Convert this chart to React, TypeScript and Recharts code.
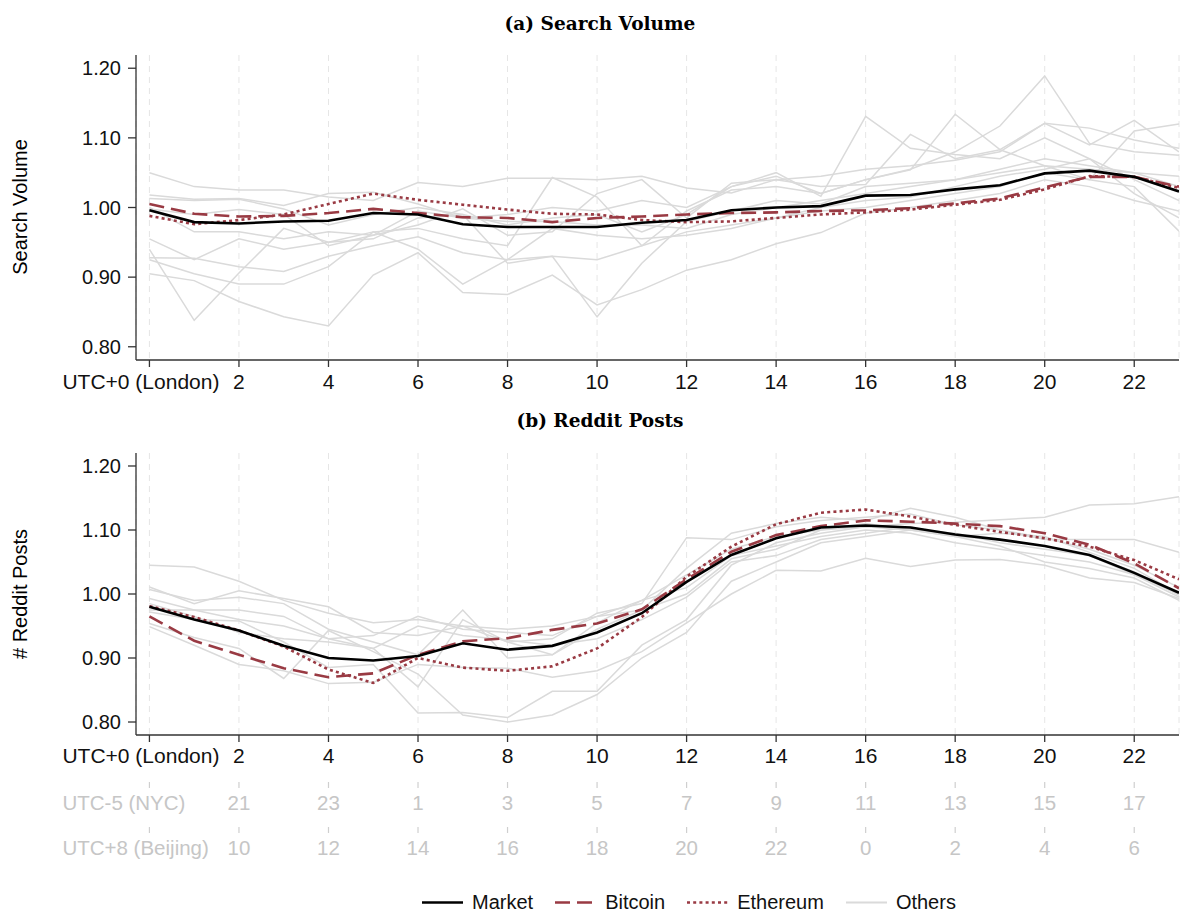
import React from "react";
import { CartesianGrid, Line, LineChart, XAxis, YAxis } from "recharts";

const hours = [0, 1, 2, 3, 4, 5, 6, 7, 8, 9, 10, 11, 12, 13, 14, 15, 16, 17, 18, 19, 20, 21, 22, 23];
const tickHours = [0, 2, 4, 6, 8, 10, 12, 14, 16, 18, 20, 22];
const londonLabels = ["UTC+0 (London)", "2", "4", "6", "8", "10", "12", "14", "16", "18", "20", "22"];
const nycLabels = ["UTC-5 (NYC)", "21", "23", "1", "3", "5", "7", "9", "11", "13", "15", "17"];
const beijingLabels = ["UTC+8 (Beijing)", "10", "12", "14", "16", "18", "20", "22", "0", "2", "4", "6"];
const yTicks = [0.8, 0.9, 1.0, 1.1, 1.2];

const searchMarket = [0.996, 0.979, 0.977, 0.98, 0.981, 0.992, 0.99, 0.976, 0.972, 0.972, 0.972, 0.978, 0.982, 0.996, 1.0, 1.002, 1.017, 1.018, 1.026, 1.032, 1.049, 1.053, 1.044, 1.023];
const searchBitcoin = [1.005, 0.991, 0.987, 0.988, 0.992, 0.998, 0.992, 0.986, 0.985, 0.979, 0.985, 0.987, 0.99, 0.992, 0.993, 0.995, 0.996, 0.999, 1.006, 1.013, 1.029, 1.044, 1.044, 1.03];
const searchEthereum = [0.988, 0.976, 0.982, 0.99, 1.005, 1.02, 1.011, 1.004, 0.997, 0.991, 0.99, 0.982, 0.979, 0.98, 0.985, 0.99, 0.993, 0.997, 1.004, 1.011, 1.026, 1.045, 1.044, 1.028];
const searchOthers = [
  [1.05, 1.03, 1.025, 1.025, 1.015, 1.01, 1.036, 1.03, 1.042, 1.042, 1.04, 1.045, 1.028, 1.021, 1.04, 1.045, 1.055, 1.06, 1.068, 1.08, 1.121, 1.114, 1.097, 1.085],
  [1.018, 1.012, 1.013, 1.003, 1.02, 1.022, 1.005, 0.985, 0.99, 1.0, 0.995, 1.01, 1.0, 1.03, 1.045, 1.02, 1.04, 1.055, 1.08, 1.117, 1.189, 1.092, 1.08, 1.075],
  [1.013, 1.01, 1.012, 0.998, 0.975, 0.99, 1.0, 0.99, 0.975, 0.985, 0.99, 0.965, 0.99, 1.03, 1.05, 1.016, 1.131, 1.085, 1.076, 1.07, 1.1, 1.07, 1.04, 1.01],
  [0.998, 0.99, 0.997, 0.99, 0.945, 0.96, 0.975, 0.998, 0.96, 0.965, 1.02, 1.04, 0.985, 1.035, 1.04, 1.03, 1.033, 1.105, 1.07, 1.083, 1.06, 1.04, 1.11, 1.12],
  [0.955, 0.925, 0.955, 0.94, 0.95, 0.965, 0.97, 0.955, 0.945, 1.043, 1.015, 0.945, 0.995, 1.025, 1.03, 1.02, 1.04, 1.054, 1.134, 1.083, 1.121, 1.09, 1.125, 1.08],
  [0.94, 0.838, 0.906, 0.97, 0.95, 0.955, 0.985, 0.99, 0.92, 0.93, 0.843, 0.92, 0.98, 0.995, 1.01, 1.005, 1.03, 1.035, 1.04, 1.05, 1.06, 1.055, 1.05, 1.03],
  [0.905, 0.895, 0.865, 0.843, 0.83, 0.903, 0.935, 0.878, 0.875, 0.903, 0.86, 0.882, 0.91, 0.925, 0.948, 0.964, 0.992, 1.0, 1.01, 1.02, 1.04, 1.03, 1.01, 0.995],
  [0.928, 0.927, 0.915, 0.908, 0.93, 0.945, 0.958, 0.935, 0.925, 0.93, 0.925, 0.945, 0.965, 0.975, 0.985, 0.995, 1.0, 1.01, 1.02, 1.03, 1.05, 1.04, 1.03, 0.966],
  [0.925, 0.905, 0.89, 0.89, 0.915, 0.965, 0.94, 0.89, 0.925, 0.97, 0.96, 0.955, 0.96, 0.97, 0.985, 1.0, 1.01, 1.015, 1.03, 1.045, 1.055, 1.07, 1.02, 0.985],
  [1.0, 0.965, 0.965, 0.955, 0.965, 0.96, 0.995, 0.985, 0.98, 0.98, 0.975, 0.975, 0.97, 0.99, 1.0, 1.01, 1.02, 1.03, 1.04, 1.055, 1.07, 1.06, 1.05, 1.045],
];

const redditMarket = [0.98, 0.96, 0.943, 0.919, 0.9, 0.896, 0.903, 0.923, 0.913, 0.919, 0.94, 0.97, 1.019, 1.061, 1.087, 1.104, 1.107, 1.104, 1.093, 1.085, 1.075, 1.061, 1.033, 1.002];
const redditBitcoin = [0.965, 0.927, 0.905, 0.884, 0.87, 0.876, 0.905, 0.926, 0.931, 0.944, 0.954, 0.976, 1.023, 1.066, 1.092, 1.106, 1.115, 1.113, 1.11, 1.106, 1.095, 1.077, 1.048, 1.009];
const redditEthereum = [0.981, 0.964, 0.943, 0.918, 0.882, 0.861, 0.9, 0.885, 0.88, 0.887, 0.915, 0.964, 1.027, 1.074, 1.109, 1.127, 1.132, 1.121, 1.108, 1.097, 1.087, 1.074, 1.053, 1.023];
const redditOthers = [
  [1.045, 1.042, 1.02, 0.99, 0.97, 0.955, 0.96, 0.95, 0.945, 0.95, 0.965, 0.99, 1.03, 1.07, 1.09, 1.1, 1.105, 1.11, 1.112, 1.116, 1.12, 1.139, 1.141, 1.152],
  [1.011, 0.985, 1.005, 0.993, 0.98, 0.94, 0.935, 0.95, 0.925, 0.93, 0.97, 0.985, 1.088, 1.085, 1.105, 1.115, 1.12, 1.125, 1.108, 1.1, 1.085, 1.085, 1.085, 1.065],
  [1.007, 0.99, 0.995, 0.985, 0.945, 0.925, 0.905, 0.975, 0.9, 0.905, 0.945, 0.975, 1.04, 1.095, 1.11, 1.12, 1.115, 1.134, 1.12, 1.1, 1.088, 1.07, 1.045, 1.01],
  [0.993, 0.975, 0.975, 0.965, 0.93, 0.915, 0.855, 0.96, 0.925, 0.905, 0.955, 0.99, 1.01, 1.06, 1.075, 1.09, 1.1, 1.095, 1.08, 1.07, 1.06, 1.05, 1.03, 1.0],
  [0.972, 0.96, 0.958, 0.925, 0.885, 0.89, 0.814, 0.815, 0.807, 0.848, 0.848, 0.92, 0.96, 1.045, 1.08, 1.095, 1.105, 1.1, 1.09, 1.085, 1.075, 1.06, 1.03, 0.995],
  [0.954, 0.932, 0.915, 0.868, 0.943, 0.91, 0.875, 0.811, 0.8, 0.811, 0.843, 0.9, 0.94, 1.02, 1.05, 1.08, 1.09, 1.1, 1.095, 1.08, 1.07, 1.06, 1.035, 0.998],
  [0.949, 0.92, 0.89, 0.88, 0.86, 0.862, 0.89, 0.885, 0.884, 0.87, 0.88, 0.91, 0.955, 1.0, 1.037, 1.036, 1.056, 1.043, 1.053, 1.054, 1.045, 1.025, 1.018, 0.993],
  [0.985, 0.965, 0.94, 0.93, 0.925, 0.915, 0.95, 0.935, 0.928, 0.92, 0.93, 0.96, 0.995, 1.05, 1.06, 1.085, 1.095, 1.105, 1.09, 1.075, 1.05, 1.04, 1.025, 0.99],
  [0.975, 0.975, 0.96, 0.95, 0.93, 0.935, 0.965, 0.945, 0.94, 0.935, 0.965, 0.975, 1.0, 1.055, 1.07, 1.1, 1.11, 1.1, 1.09, 1.095, 1.09, 1.065, 1.04, 1.0],
];

const FONT = "'Liberation Sans', Arial, Helvetica, sans-serif";
const RED = "#993a43";
const GRAY = "#dadada";
const LIGHT_TEXT = "#c6c6c6";

function buildRows(market: number[], bitcoin: number[], ethereum: number[], others: number[][]) {
  return hours.map((hour, i) => {
    const row: { [key: string]: number } = { hour, market: market[i], bitcoin: bitcoin[i], ethereum: ethereum[i] };
    others.forEach((o, k) => {
      row["o" + k] = o[i];
    });
    return row;
  });
}

const searchData = buildRows(searchMarket, searchBitcoin, searchEthereum, searchOthers);
const redditData = buildRows(redditMarket, redditBitcoin, redditEthereum, redditOthers);

const makeTick = (labels: string[], color: string, size: number) => (props: any) => {
  const { x, y, payload } = props;
  const i = tickHours.indexOf(payload.value);
  const label = labels[i] ?? "";
  const first = i === 0;
  return (
    <text
      x={first ? x - 87 : x}
      y={y}
      dy="0.71em"
      textAnchor={first ? "start" : "middle"}
      fill={color}
      fontSize={size}
      fontFamily={FONT}
    >
      {label}
    </text>
  );
};

const xDomain: [number, number] = [-0.3, 23];

function renderLines(count: number) {
  const lines = [];
  for (let k = 0; k < count; k++) {
    lines.push(
      <Line
        key={"o" + k}
        type="linear"
        dataKey={"o" + k}
        stroke={GRAY}
        strokeWidth={1.5}
        dot={false}
        isAnimationActive={false}
      />
    );
  }
  lines.push(
    <Line key="eth" type="linear" dataKey="ethereum" stroke={RED} strokeWidth={2.6} strokeDasharray="3 3.2" dot={false} isAnimationActive={false} />,
    <Line key="btc" type="linear" dataKey="bitcoin" stroke={RED} strokeWidth={2.6} strokeDasharray="15 7" dot={false} isAnimationActive={false} />,
    <Line key="mkt" type="linear" dataKey="market" stroke="#000" strokeWidth={2.6} dot={false} isAnimationActive={false} />
  );
  return lines;
}

const yAxisProps = {
  type: "number" as const,
  ticks: yTicks,
  width: 60,
  tickFormatter: (v: number) => v.toFixed(2),
  tick: { fill: "#111", fontSize: 20, fontFamily: FONT },
  tickSize: 8,
  tickMargin: 7,
  axisLine: { stroke: "#333", strokeWidth: 1.3 },
  tickLine: { stroke: "#333", strokeWidth: 1.3 },
  allowDataOverflow: true,
};

const legendItems = [
  { name: "Market", color: "#000", dash: undefined as string | undefined, width: 2.6 },
  { name: "Bitcoin", color: RED, dash: "15 7", width: 2.6 },
  { name: "Ethereum", color: RED, dash: "3 3.2", width: 2.6 },
  { name: "Others", color: GRAY, dash: undefined, width: 1.8 },
];

const titleStyle: React.CSSProperties = {
  position: "absolute",
  left: 600,
  transform: "translate(-50%, -50%)",
  fontFamily: "'DejaVu Serif', serif",
  fontWeight: "bold",
  fontSize: 18.5,
  whiteSpace: "nowrap",
};

const yLabelStyle: React.CSSProperties = {
  position: "absolute",
  left: 20,
  transform: "translate(-50%, -50%) rotate(-90deg)",
  fontSize: 20,
  whiteSpace: "nowrap",
};

export default function App() {
  return (
    <div style={{ position: "absolute", left: 0, top: 0, width: 1180, height: 913, background: "#fff", fontFamily: FONT }}>
      <div style={{ ...titleStyle, top: 23 }}>(a) Search Volume</div>
      <div style={{ ...titleStyle, top: 420 }}>(b) Reddit Posts</div>
      <div style={{ ...yLabelStyle, top: 207 }}>Search Volume</div>
      <div style={{ ...yLabelStyle, top: 594 }}># Reddit Posts</div>

      <div style={{ position: "absolute", left: 0, top: 0 }}>
        <LineChart width={1180} height={400} data={searchData} margin={{ top: 55, right: 1, bottom: 10, left: 76 }}>
          <CartesianGrid horizontal={false} stroke="#e6e6e6" strokeDasharray="6 5" />
          <XAxis
            dataKey="hour"
            type="number"
            domain={xDomain}
            allowDataOverflow
            ticks={tickHours}
            interval={0}
            height={30}
            tickSize={7}
            tickMargin={7}
            axisLine={{ stroke: "#333", strokeWidth: 1.3 }}
            tickLine={{ stroke: "#333", strokeWidth: 1.3 }}
            tick={makeTick(londonLabels, "#111", 21)}
          />
          <YAxis {...yAxisProps} domain={[0.781, 1.219]} />
          {renderLines(searchOthers.length)}
        </LineChart>
      </div>

      <div style={{ position: "absolute", left: 0, top: 400 }}>
        <LineChart width={1180} height={513} data={redditData} margin={{ top: 53, right: 1, bottom: 41, left: 76 }}>
          <CartesianGrid horizontal={false} stroke="#e6e6e6" strokeDasharray="6 5" />
          <XAxis
            dataKey="hour"
            type="number"
            domain={xDomain}
            allowDataOverflow
            ticks={tickHours}
            interval={0}
            height={47}
            tickSize={7}
            tickMargin={6}
            axisLine={{ stroke: "#333", strokeWidth: 1.3 }}
            tickLine={{ stroke: "#333", strokeWidth: 1.3 }}
            tick={makeTick(londonLabels, "#111", 21)}
          />
          <XAxis
            xAxisId="r1"
            dataKey="hour"
            type="number"
            domain={xDomain}
            allowDataOverflow
            ticks={tickHours}
            interval={0}
            height={45}
            tickSize={6}
            tickMargin={7}
            axisLine={false}
            tickLine={{ stroke: "#cfcfcf", strokeWidth: 1.2 }}
            tick={makeTick(nycLabels, LIGHT_TEXT, 20.5)}
          />
          <XAxis
            xAxisId="r2"
            dataKey="hour"
            type="number"
            domain={xDomain}
            allowDataOverflow
            ticks={tickHours}
            interval={0}
            height={45}
            tickSize={6}
            tickMargin={7}
            axisLine={false}
            tickLine={{ stroke: "#cfcfcf", strokeWidth: 1.2 }}
            tick={makeTick(beijingLabels, LIGHT_TEXT, 20.5)}
          />
          <YAxis {...yAxisProps} domain={[0.7797, 1.2203]} />
          {renderLines(redditOthers.length)}
        </LineChart>
      </div>

      <div
        style={{
          position: "absolute",
          left: 422,
          top: 902,
          transform: "translateY(-50%)",
          display: "flex",
          alignItems: "center",
          fontSize: 20,
          color: "#111",
          whiteSpace: "nowrap",
        }}
      >
        {legendItems.map((it, i) => (
          <div key={it.name} style={{ display: "flex", alignItems: "center", marginLeft: i === 0 ? 0 : 22 }}>
            <svg width={41} height={10}>
              <line x1={0} y1={5} x2={41} y2={5} stroke={it.color} strokeWidth={it.width} strokeDasharray={it.dash} />
            </svg>
            <span style={{ marginLeft: 9 }}>{it.name}</span>
          </div>
        ))}
      </div>
    </div>
  );
}
